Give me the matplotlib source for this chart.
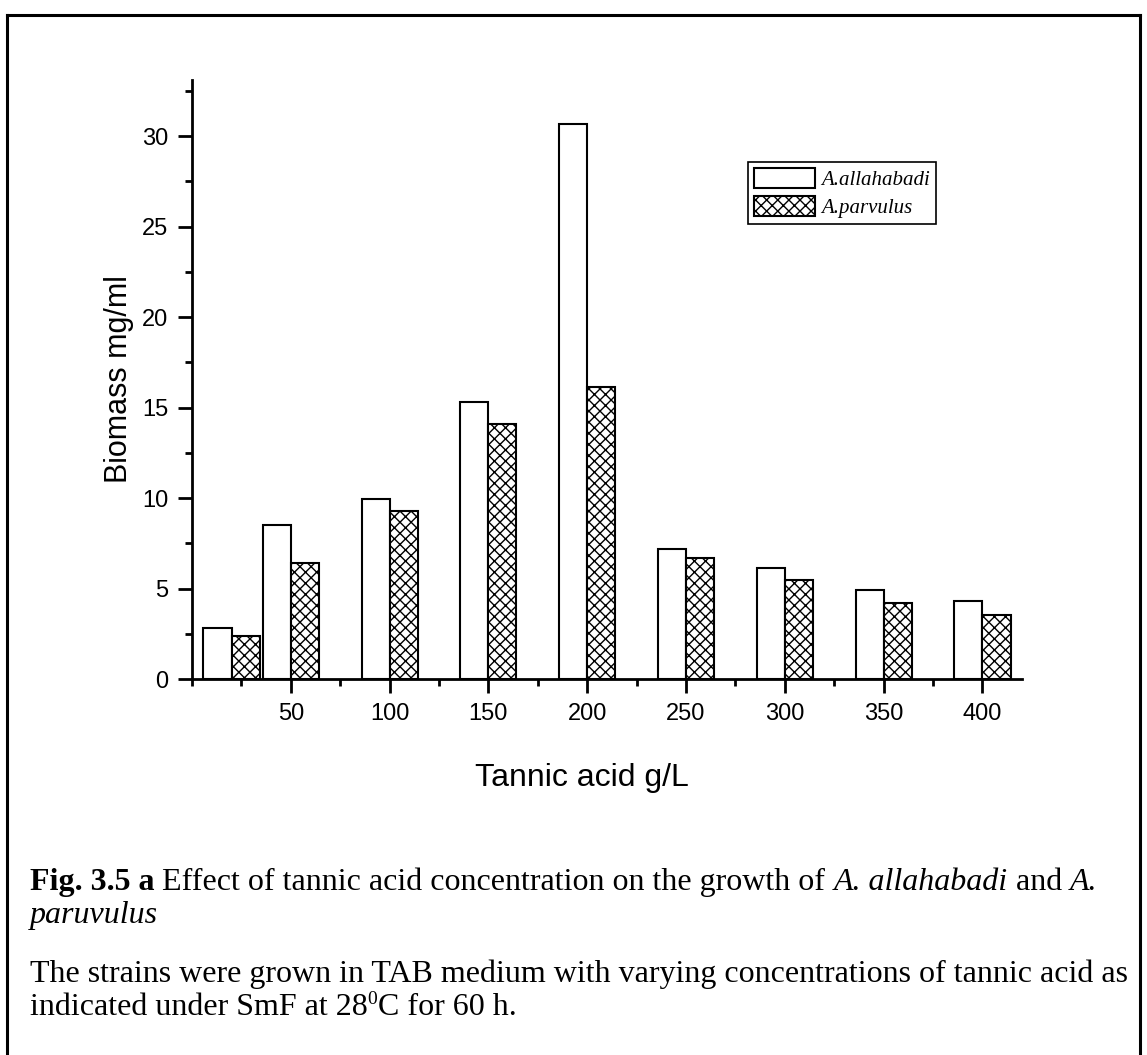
import numpy as np
import matplotlib
matplotlib.use('Agg')
import matplotlib.pyplot as plt
from matplotlib.ticker import MultipleLocator

# data
conc = [20, 50, 100, 150, 200, 250, 300, 350, 400]
allahabadi = [2.83, 8.49, 9.93, 15.32, 30.66, 7.2, 6.15, 4.93, 4.31]
parvulus = [2.37, 6.39, 9.30, 14.07, 16.12, 6.7, 5.49, 4.20, 3.55]
xtick_vals = [50, 100, 150, 200, 250, 300, 350, 400]
ytick_vals = [0, 5, 10, 15, 20, 25, 30]

plt.rcParams['hatch.linewidth'] = 1.0
sans = 'Liberation Sans'
serif = 'Liberation Serif'

W, H = 1147, 1055
fig = plt.figure(figsize=(W / 100, H / 100), dpi=100)

# page frame
fig.add_artist(plt.Line2D([7 / W, 7 / W], [0, 1 - 15 / H], color='black', lw=2.2))
fig.add_artist(plt.Line2D([7 / W, 1140 / W], [1 - 15 / H, 1 - 15 / H], color='black', lw=2.2))
fig.add_artist(plt.Line2D([1140 / W, 1140 / W], [0, 1 - 15 / H], color='black', lw=2.2))

ax = fig.add_axes([192 / W, 1 - 679 / H, (1022 - 192) / W, (679 - 80) / H])

bw = 14.2
x = np.array(conc, dtype=float)
ax.bar(x - bw / 2, allahabadi, width=bw, color='white', edgecolor='black', lw=1.5,
       label='A.allahabadi')
ax.bar(x + bw / 2, parvulus, width=bw, color='white', edgecolor='black', lw=1.5,
       hatch='xxx', label='A.parvulus')

ax.set_xlim(0, 420)
ax.set_ylim(0, 33.1)
ax.spines['top'].set_visible(False)
ax.spines['right'].set_visible(False)
for s in ['left', 'bottom']:
    ax.spines[s].set_linewidth(2)

ax.set_xticks(xtick_vals)
ax.set_yticks(ytick_vals)
ax.xaxis.set_minor_locator(MultipleLocator(25))
ax.yaxis.set_minor_locator(MultipleLocator(2.5))
ax.tick_params(which='major', direction='out', length=10, width=2, labelsize=17, pad=7)
ax.tick_params(which='minor', direction='out', length=5, width=2)
for lab in ax.get_xticklabels() + ax.get_yticklabels():
    lab.set_family(sans)

ax.set_ylabel('Biomass mg/ml', family=sans, fontsize=22)
ax.yaxis.set_label_coords(-0.07, 0.5)
ax.set_xlabel('Tannic acid g/L', family=sans, fontsize=23)
ax.xaxis.set_label_coords(0.47, -0.14)

leg = ax.legend(loc='upper left', bbox_to_anchor=((748 - 192) / 830, (679 - 162) / 599),
                frameon=True, fancybox=False, edgecolor='black', framealpha=1,
                prop={'family': serif, 'style': 'italic', 'size': 15},
                handlelength=2.9, handleheight=1.1, handletextpad=0.3,
                borderpad=0.3, labelspacing=0.25, borderaxespad=0)
leg.get_frame().set_linewidth(1.2)

# caption, written as runs of text with different styles
fig.canvas.draw()
renderer = fig.canvas.get_renderer()
cap_size = 23


def run_line(runs, x0, y0):
    xpos = x0
    for txt, kw in runs:
        size = kw.pop('size', cap_size)
        dy = kw.pop('dy', 0)
        t = fig.text(xpos / W, 1 - (y0 - dy) / H, txt, family=serif, fontsize=size,
                     va='baseline', ha='left', **kw)
        xpos += t.get_window_extent(renderer).width


run_line([('Fig. 3.5 a ', {'weight': 'bold'}),
          ('Effect of tannic acid concentration on the growth of ', {}),
          ('A. allahabadi', {'style': 'italic'}),
          (' and ', {}),
          ('A.', {'style': 'italic'})], 30, 890)
run_line([('paruvulus', {'style': 'italic'})], 30, 923)
run_line([('The strains were grown in TAB medium with varying concentrations of tannic acid as', {})],
         30, 982)
run_line([('indicated under SmF at 28', {}),
          ('0', {'size': 14, 'dy': 11}),
          ('C for 60 h.', {})], 30, 1015)

fig.savefig('out.png', dpi=100)
